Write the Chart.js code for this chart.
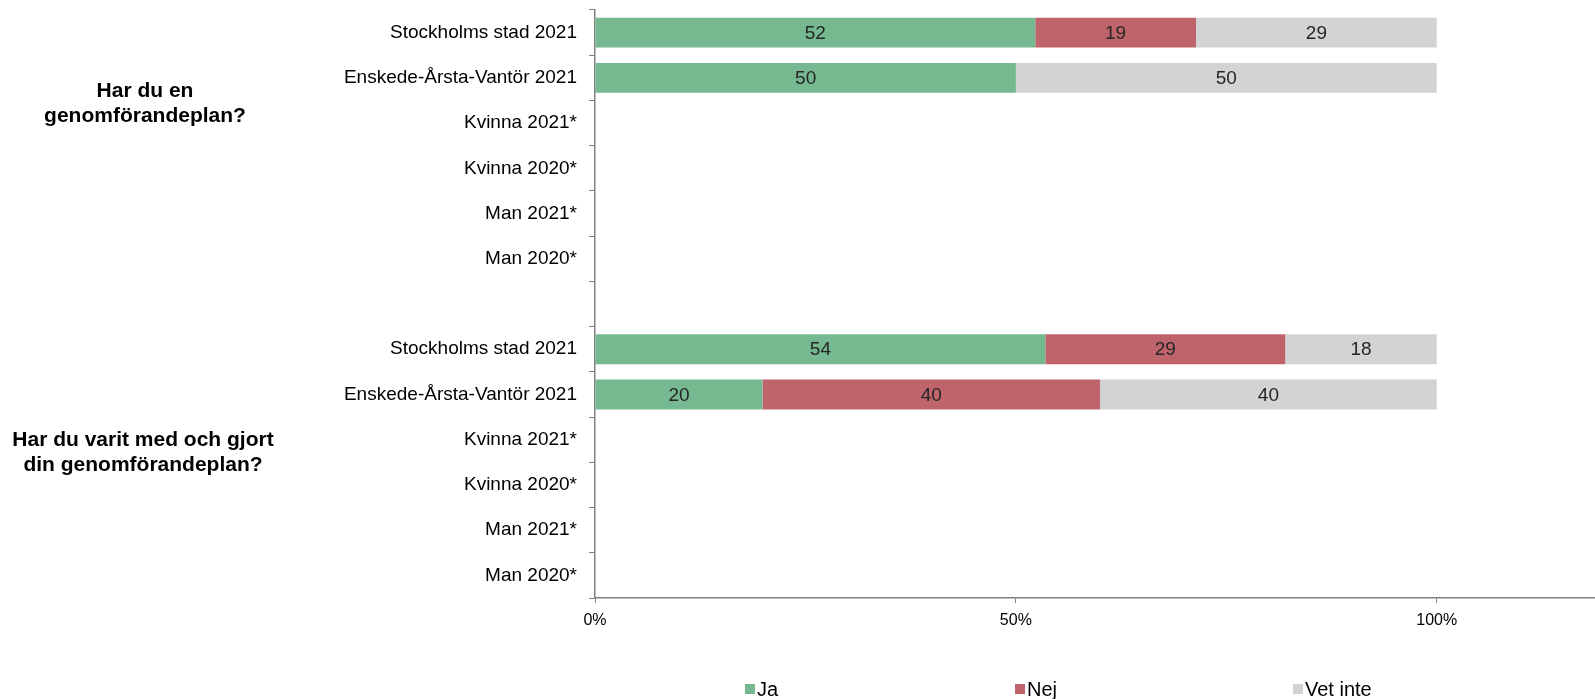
<!DOCTYPE html>
<html>
<head>
<meta charset="utf-8">
<script src="https://cdn.jsdelivr.net/npm/chart.js@4"></script>
<style>
  html, body { margin: 0; padding: 0; background: #ffffff; }
  #wrap { width: 1595px; height: 699px; position: relative; }
</style>
</head>
<body>
<div id="wrap"><canvas id="chart" width="1595" height="699"></canvas></div>
<script>
// categories (index 6 is the empty gap row between the two questions)
const categories = [
  'Stockholms stad 2021', 'Enskede-Årsta-Vantör 2021', 'Kvinna 2021*', 'Kvinna 2020*', 'Man 2021*', 'Man 2020*',
  '',
  'Stockholms stad 2021', 'Enskede-Årsta-Vantör 2021', 'Kvinna 2021*', 'Kvinna 2020*', 'Man 2021*', 'Man 2020*'
];
const questions = [
  ['Har du en', 'genomförandeplan?'],
  ['Har du varit med och gjort', 'din genomförandeplan?']
];
const seriesNames = ['Ja', 'Nej', 'Vet inte'];
const jaValues = [52.3, 50, null, null, null, null, null, 53.5, 19.9, null, null, null, null];
const nejValues = [19.1, null, null, null, null, null, null, 28.5, 40.1, null, null, null, null];
const vetInteValues = [28.6, 50, null, null, null, null, null, 18.0, 40.0, null, null, null, null];
const xTicks = [0, 50, 100];

const colors = ['#76b990', '#c0646c', '#d3d3d3'];
const FONT = '"Liberation Sans", Arial, sans-serif';

// value labels inside the bar segments
const barLabels = {
  id: 'barLabels',
  afterDatasetsDraw(chart) {
    const ctx = chart.ctx;
    ctx.save();
    ctx.font = '19px ' + FONT;
    ctx.fillStyle = '#262626';
    ctx.textAlign = 'center';
    ctx.textBaseline = 'middle';
    chart.data.datasets.forEach((ds, di) => {
      chart.getDatasetMeta(di).data.forEach((bar, i) => {
        const v = ds.data[i];
        if (v == null) return;
        const x = (bar.x + bar.base) / 2;
        ctx.fillText(String(Math.round(v)), x, bar.y + 1);
      });
    });
    ctx.restore();
  }
};

// question labels on the left, and the legend at the bottom
const extras = {
  id: 'extras',
  afterDraw(chart) {
    const ctx = chart.ctx;
    const y = chart.scales.y;
    ctx.save();
    ctx.font = 'bold 21px ' + FONT;
    ctx.fillStyle = '#000';
    ctx.textAlign = 'center';
    ctx.textBaseline = 'middle';
    const c1 = (y.getPixelForValue(1) + y.getPixelForValue(2)) / 2 + 3;
    const c2 = y.getPixelForValue(9) + 13;
    [[c1, 145, questions[0]], [c2, 143, questions[1]]].forEach(([cy, cx, lines]) => {
      ctx.fillText(lines[0], cx, cy - 12);
      ctx.fillText(lines[1], cx, cy + 13);
    });

    // legend
    ctx.font = '20px ' + FONT;
    ctx.textAlign = 'left';
    const lx = [745, 1015, 1293];
    const ly = 689;
    seriesNames.forEach((name, i) => {
      ctx.fillStyle = colors[i];
      ctx.fillRect(lx[i], ly - 5, 10, 10);
      ctx.fillStyle = '#000';
      ctx.fillText(name, lx[i] + 12, ly + 1);
    });
    ctx.restore();
  }
};

new Chart(document.getElementById('chart'), {
  type: 'bar',
  data: {
    labels: categories,
    datasets: [
      { label: seriesNames[0], data: jaValues, backgroundColor: colors[0] },
      { label: seriesNames[1], data: nejValues, backgroundColor: colors[1] },
      { label: seriesNames[2], data: vetInteValues, backgroundColor: colors[2] }
    ]
  },
  options: {
    indexAxis: 'y',
    responsive: false,
    animation: false,
    layout: { padding: { top: 10, right: 0, bottom: 0, left: 0 } },
    datasets: { bar: { categoryPercentage: 1, barPercentage: 0.66, borderWidth: 0 } },
    plugins: {
      legend: { display: false },
      tooltip: { enabled: false }
    },
    scales: {
      x: {
        stacked: true,
        min: 0,
        max: 118.8,
        afterBuildTicks: (axis) => { axis.ticks = xTicks.map(v => ({ value: v })); },
        afterFit: (axis) => { axis.height = 101; axis.paddingRight = 0; },
        border: { color: '#808080', width: 1.5 },
        grid: { drawOnChartArea: false, tickLength: 5, color: '#808080' },
        ticks: {
          color: '#000',
          font: { family: FONT, size: 16 },
          padding: 8,
          maxRotation: 0,
          callback: (v) => v + '%'
        }
      },
      y: {
        stacked: true,
        afterFit: (axis) => { axis.width = 595; axis.paddingTop = 0; axis.paddingBottom = 0; },
        border: { color: '#808080', width: 1.5 },
        grid: { offset: true, drawOnChartArea: false, tickLength: 6, color: '#808080' },
        ticks: {
          color: '#000',
          font: { family: FONT, size: 19 },
          padding: 12,
          autoSkip: false
        }
      }
    }
  },
  plugins: [barLabels, extras]
});
</script>
</body>
</html>
